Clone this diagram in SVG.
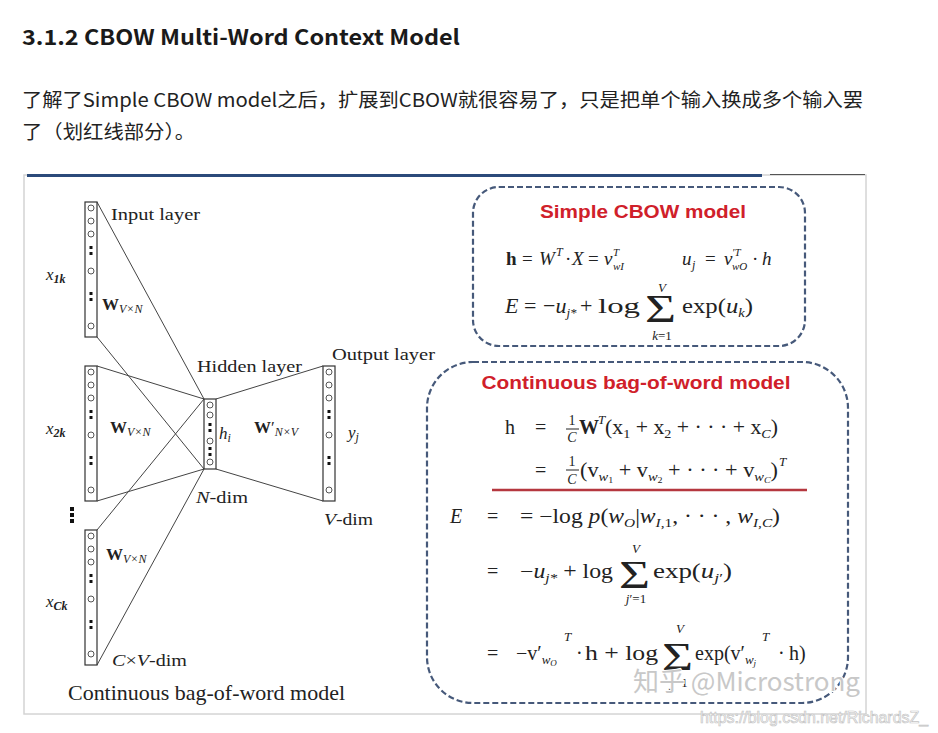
<svg xmlns="http://www.w3.org/2000/svg" xmlns:xlink="http://www.w3.org/1999/xlink" width="938" height="733" viewBox="0 0 938 733">
<style>
.hd{font-family:"Noto Sans CJK SC","Noto Sans",sans-serif;font-weight:bold;font-size:21px;fill:#1a1a1a}
.pg{font-family:"Noto Sans CJK SC","Noto Sans",sans-serif;font-size:19px;fill:#222}
.sf{font-family:"Liberation Serif","Times New Roman",serif;fill:#222}
.lb{font-size:17px}
.it{font-style:italic}
.bd{font-weight:bold}
.red{font-family:"Liberation Sans",Arial,sans-serif;font-weight:bold;fill:#d0202a}
.col{fill:#fff;stroke:#333;stroke-width:1.2}
.nd{fill:none;stroke:#555;stroke-width:1}
.conn line{stroke:#444;stroke-width:1}
.dash{fill:none;stroke:#46597a;stroke-width:2.2;stroke-dasharray:6 3}
.sig{font-size:40px}
</style>
<defs>
<g id="dots"><rect x="-1.5" y="0" width="3" height="3" fill="#111"/><rect x="-1.5" y="6" width="3" height="3" fill="#111"/></g>
<g id="column">
<rect class="col" x="-6" y="0" width="12" height="135"/>
<circle class="nd" cx="0" cy="6" r="3"/>
<circle class="nd" cx="0" cy="19" r="3"/>
<circle class="nd" cx="0" cy="32" r="3"/>
<use xlink:href="#dots" y="44"/>
<circle class="nd" cx="0" cy="69" r="3"/>
<use xlink:href="#dots" y="90"/>
<circle class="nd" cx="0" cy="124" r="3"/>
</g>
</defs>
<rect width="938" height="733" fill="#fff"/>

<g id="header">
<text class="hd" x="22" y="45" textLength="438" lengthAdjust="spacingAndGlyphs">3.1.2 CBOW Multi-Word Context Model</text>
<text class="pg" x="22" y="107" textLength="841" lengthAdjust="spacingAndGlyphs">了解了Simple CBOW model之后，扩展到CBOW就很容易了，只是把单个输入换成多个输入罢</text>
<text class="pg" x="22" y="139" textLength="173" lengthAdjust="spacingAndGlyphs">了（划红线部分）。</text>
</g>

<g id="frame">
<rect x="24" y="175" width="842" height="539" fill="#fff" stroke="#d4d4d4" stroke-width="1.5"/>
<line x1="27" y1="175.5" x2="762" y2="175.5" stroke="#2b4a7a" stroke-width="3"/>
<line x1="770" y1="174.5" x2="865" y2="174.5" stroke="#555" stroke-width="1"/>
</g>

<g id="connectors" class="conn">
<line x1="97" y1="202" x2="204" y2="399"/>
<line x1="97" y1="337" x2="204" y2="469"/>
<line x1="97" y1="366" x2="204" y2="399"/>
<line x1="97" y1="501" x2="204" y2="469"/>
<line x1="97" y1="530" x2="204" y2="399"/>
<line x1="97" y1="665" x2="204" y2="469"/>
<line x1="216" y1="399" x2="323" y2="366"/>
<line x1="216" y1="469" x2="323" y2="501"/>
</g>

<g id="input1">
<use xlink:href="#column" x="91" y="202"/>
<text class="sf lb" x="111" y="220" textLength="89" lengthAdjust="spacingAndGlyphs">Input layer</text>
<text class="sf it" x="46" y="280" font-size="17">x<tspan font-size="12" dy="3" font-weight="bold">1k</tspan></text>
<text class="sf" x="102" y="310" font-size="17"><tspan class="bd">W</tspan><tspan class="it" font-size="12" dy="3">V×N</tspan></text>
</g>

<g id="input2">
<use xlink:href="#column" x="91" y="366"/>
<text class="sf it" x="46" y="434" font-size="17">x<tspan font-size="12" dy="3" font-weight="bold">2k</tspan></text>
<text class="sf" x="110" y="433" font-size="17"><tspan class="bd">W</tspan><tspan class="it" font-size="12" dy="3">V×N</tspan></text>
</g>

<g id="ellipsis">
<rect x="70" y="507" width="4" height="4" fill="#111"/>
<rect x="70" y="513" width="4" height="4" fill="#111"/>
<rect x="70" y="519" width="4" height="4" fill="#111"/>
</g>

<g id="input3">
<use xlink:href="#column" x="91" y="530"/>
<text class="sf" x="106" y="560" font-size="17"><tspan class="bd">W</tspan><tspan class="it" font-size="12" dy="3">V×N</tspan></text>
<text class="sf it" x="46" y="607" font-size="17">x<tspan font-size="12" dy="3" font-weight="bold">Ck</tspan></text>
<text class="sf" x="112" y="666" font-size="17" textLength="75" lengthAdjust="spacingAndGlyphs"><tspan class="it">C</tspan>×<tspan class="it">V</tspan>-dim</text>
</g>

<g id="hidden">
<rect class="col" x="204" y="399" width="12" height="70"/>
<circle class="nd" cx="210" cy="405" r="3"/>
<circle class="nd" cx="210" cy="415" r="3"/>
<use xlink:href="#dots" x="210" y="423"/>
<circle class="nd" cx="210" cy="441" r="3"/>
<use xlink:href="#dots" x="210" y="447"/>
<circle class="nd" cx="210" cy="462" r="3"/>
<text class="sf lb" x="197" y="372" textLength="105" lengthAdjust="spacingAndGlyphs">Hidden layer</text>
<text class="sf it" x="219" y="439" font-size="17">h<tspan font-size="12" dy="3">i</tspan></text>
<text class="sf" x="196" y="503" font-size="17" textLength="52" lengthAdjust="spacingAndGlyphs"><tspan class="it">N</tspan>-dim</text>
<text class="sf" x="254" y="433" font-size="17"><tspan class="bd">W</tspan>′<tspan class="it" font-size="12" dy="3">N×V</tspan></text>
</g>

<g id="output">
<use xlink:href="#column" x="329" y="366"/>
<text class="sf lb" x="332" y="360" textLength="103" lengthAdjust="spacingAndGlyphs">Output layer</text>
<text class="sf it" x="348" y="438" font-size="17">y<tspan font-size="12" dy="3">j</tspan></text>
<text class="sf" x="324" y="525" font-size="17" textLength="49" lengthAdjust="spacingAndGlyphs"><tspan class="it">V</tspan>-dim</text>
</g>

<text class="sf" x="68" y="700" font-size="21" textLength="277" lengthAdjust="spacingAndGlyphs">Continuous bag-of-word model</text>

<g id="simple-cbow">
<rect class="dash" x="473" y="187" width="332" height="159" rx="26"/>
<text class="red" x="643" y="218" font-size="18" text-anchor="middle" textLength="206" lengthAdjust="spacingAndGlyphs">Simple CBOW model</text>
<g class="sf" font-size="19">
<text x="506" y="265" font-weight="bold">h</text>
<text x="522" y="265">=</text>
<text x="539" y="265" class="it">W</text>
<text x="556" y="256" class="it" font-size="12">T</text>
<text x="565" y="265">·</text>
<text x="572" y="265" class="it">X</text>
<text x="588" y="265">=</text>
<text x="604" y="265" class="it">v</text>
<text x="613" y="256" class="it" font-size="11">T</text>
<text x="613" y="270" class="it" font-size="11">wI</text>
<text x="682" y="265" class="it">u</text>
<text x="692" y="269" class="it" font-size="12">j</text>
<text x="705" y="265">=</text>
<text x="724" y="265" class="it">v</text>
<text x="732" y="256" class="it" font-size="11">′T</text>
<text x="732" y="270" class="it" font-size="11">wO</text>
<text x="752" y="265">·</text>
<text x="762" y="265" class="it">h</text>
</g>
<g class="sf" font-size="22">
<text x="505" y="313" class="it">E</text>
<text x="524" y="313">=</text>
<text x="543" y="313">−<tspan class="it">u</tspan><tspan class="it" font-size="13" dy="4">j*</tspan></text>
<text x="580" y="313">+</text>
<text x="598" y="313" textLength="42" lengthAdjust="spacingAndGlyphs">log</text>
<text x="645" y="322" class="sig" textLength="31" lengthAdjust="spacingAndGlyphs">Σ</text>
<text x="662" y="292" class="it" font-size="13" text-anchor="middle">V</text>
<text x="662" y="340" font-size="13" text-anchor="middle"><tspan class="it">k</tspan>=1</text>
<text x="682" y="313" textLength="71" lengthAdjust="spacingAndGlyphs">exp(<tspan class="it">u</tspan><tspan class="it" font-size="13" dy="4">k</tspan><tspan dy="-4">)</tspan></text>
</g>
</g>

<g id="cbow">
<rect class="dash" x="427" y="362" width="421" height="341" rx="46"/>
<text class="red" x="636" y="389" font-size="19" text-anchor="middle" textLength="309" lengthAdjust="spacingAndGlyphs">Continuous bag-of-word model</text>
<g class="sf" font-size="20">
<text x="505" y="434">h</text>
<text x="535" y="434">=</text>
<text x="572" y="425" font-size="14" text-anchor="middle">1</text>
<line x1="566" y1="429" x2="579" y2="429" stroke="#222" stroke-width="1"/>
<text x="572" y="442" font-size="14" text-anchor="middle" class="it">C</text>
<text x="579" y="434" font-weight="bold">W</text>
<text x="598" y="424" class="it" font-size="13">T</text>
<text x="605" y="434" textLength="173" lengthAdjust="spacingAndGlyphs">(x<tspan font-size="13" dy="4">1</tspan><tspan dy="-4"> + x</tspan><tspan font-size="13" dy="4">2</tspan><tspan dy="-4"> + · · · + x</tspan><tspan font-size="13" dy="4" class="it">C</tspan><tspan dy="-4">)</tspan></text>
<text x="535" y="477">=</text>
<text x="572" y="466" font-size="14" text-anchor="middle">1</text>
<line x1="566" y1="470" x2="579" y2="470" stroke="#222" stroke-width="1"/>
<text x="572" y="484" font-size="14" text-anchor="middle" class="it">C</text>
<text x="580" y="477" textLength="198" lengthAdjust="spacingAndGlyphs">(v<tspan font-size="13" dy="4" class="it">w</tspan><tspan font-size="9" dy="2">1</tspan><tspan dy="-6"> + v</tspan><tspan font-size="13" dy="4" class="it">w</tspan><tspan font-size="9" dy="2">2</tspan><tspan dy="-6"> + · · · + v</tspan><tspan font-size="13" dy="4" class="it">w</tspan><tspan font-size="9" dy="2" class="it">C</tspan><tspan dy="-6">)</tspan></text>
<text x="779" y="466" class="it" font-size="13">T</text>
</g>
<line x1="492" y1="490" x2="807" y2="490" stroke="#b5373f" stroke-width="2.5"/>
<g class="sf" font-size="20">
<text x="450" y="523" class="it">E</text>
<text x="487" y="523">=</text>
<text x="520" y="523" textLength="260" lengthAdjust="spacingAndGlyphs">= −log <tspan class="it">p</tspan>(<tspan class="it">w</tspan><tspan class="it" font-size="13" dy="4">O</tspan><tspan dy="-4">|</tspan><tspan class="it">w</tspan><tspan class="it" font-size="13" dy="4">I</tspan><tspan font-size="13">,1</tspan><tspan dy="-4">, · · · , </tspan><tspan class="it">w</tspan><tspan class="it" font-size="13" dy="4">I,C</tspan><tspan dy="-4">)</tspan></text>
<text x="487" y="578">=</text>
<text x="520" y="578" textLength="93" lengthAdjust="spacingAndGlyphs">−<tspan class="it">u</tspan><tspan class="it" font-size="13" dy="4">j*</tspan><tspan dy="-4"> + log</tspan></text>
<text x="619" y="588" class="sig" textLength="31" lengthAdjust="spacingAndGlyphs">Σ</text>
<text x="636" y="553" class="it" font-size="13" text-anchor="middle">V</text>
<text x="636" y="603" font-size="13" text-anchor="middle"><tspan class="it">j</tspan>′=1</text>
<text x="653" y="578" textLength="79" lengthAdjust="spacingAndGlyphs">exp(<tspan class="it">u</tspan><tspan class="it" font-size="13" dy="4">j</tspan><tspan font-size="13">′</tspan><tspan dy="-4">)</tspan></text>
<text x="487" y="660">=</text>
<text x="516" y="660">−v′<tspan class="it" font-size="13" dy="4">w</tspan><tspan class="it" font-size="9" dy="2">O</tspan></text>
<text x="564" y="641" class="it" font-size="13">T</text>
<text x="576" y="660">·</text>
<text x="585" y="660" textLength="73" lengthAdjust="spacingAndGlyphs">h + log</text>
<text x="662" y="670" class="sig" textLength="31" lengthAdjust="spacingAndGlyphs">Σ</text>
<text x="680" y="633" class="it" font-size="13" text-anchor="middle">V</text>
<text x="679" y="687" font-size="13" text-anchor="middle"><tspan class="it">j</tspan>=1</text>
<text x="695" y="660">exp(v′<tspan class="it" font-size="13" dy="4">w</tspan><tspan class="it" font-size="9" dy="2">j</tspan></text>
<text x="762" y="641" class="it" font-size="13">T</text>
<text x="778" y="660">·</text>
<text x="789" y="660">h)</text>
</g>
</g>

<g id="watermarks">
<text x="633" y="691" font-family="Noto Sans CJK SC, Noto Sans, sans-serif" font-size="26" fill="#c8c8c8" stroke="#fff" stroke-width="2" paint-order="stroke" textLength="227" lengthAdjust="spacingAndGlyphs">知乎 @Microstrong</text>
<text x="700" y="723" font-family="Liberation Sans, Arial, sans-serif" font-size="16" fill="#fff" stroke="#c4c4c4" stroke-width="0.7" textLength="228" lengthAdjust="spacingAndGlyphs">https://blog.csdn.net/RichardsZ_</text>
</g>
</svg>
